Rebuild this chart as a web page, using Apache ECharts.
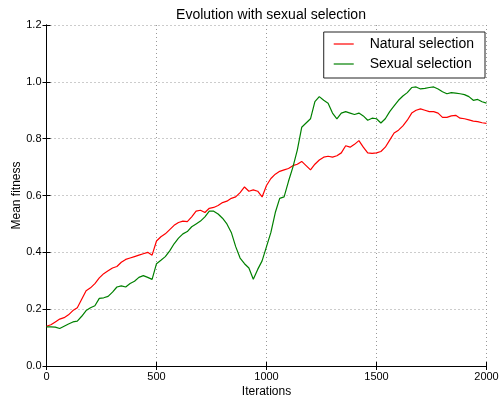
<!DOCTYPE html>
<html><head><meta charset="utf-8">
<script src="https://cdn.jsdelivr.net/npm/echarts@6/dist/echarts.min.js"></script>
<style>html,body{margin:0;padding:0;background:#fff}#c{width:499px;height:401px}</style>
</head><body><div id="c"></div>
<script>
const iterations = [];
for (let i = 0; i <= 2000; i += 20) iterations.push(i);
const naturalSelection = [
0.14,0.145,0.155,0.165,0.17,0.18,0.195,0.205,0.235,0.265,
0.275,0.29,0.31,0.325,0.335,0.345,0.35,0.365,0.375,0.38,
0.385,0.39,0.395,0.40,0.39,0.44,0.455,0.465,0.48,0.495,
0.505,0.51,0.508,0.525,0.545,0.548,0.54,0.555,0.558,0.565,
0.575,0.58,0.59,0.595,0.61,0.63,0.615,0.62,0.615,0.595,
0.635,0.66,0.675,0.685,0.69,0.695,0.705,0.71,0.72,0.705,
0.69,0.71,0.725,0.735,0.738,0.735,0.74,0.75,0.775,0.77,
0.78,0.793,0.77,0.75,0.748,0.75,0.755,0.77,0.795,0.82,
0.83,0.845,0.865,0.89,0.9,0.905,0.9,0.895,0.895,0.89,
0.875,0.875,0.88,0.882,0.872,0.87,0.866,0.862,0.86,0.856,0.854];
const sexualSelection = [
0.138,0.138,0.137,0.132,0.14,0.148,0.155,0.158,0.175,0.195,
0.205,0.212,0.238,0.24,0.245,0.26,0.278,0.282,0.278,0.29,
0.298,0.312,0.318,0.312,0.305,0.36,0.372,0.385,0.405,0.43,
0.45,0.465,0.473,0.49,0.5,0.51,0.525,0.545,0.545,0.535,
0.52,0.5,0.47,0.42,0.38,0.36,0.345,0.305,0.34,0.37,
0.42,0.47,0.54,0.59,0.595,0.65,0.7,0.76,0.84,0.855,
0.87,0.93,0.948,0.935,0.925,0.89,0.87,0.89,0.895,0.89,
0.885,0.89,0.88,0.865,0.872,0.87,0.855,0.87,0.895,0.915,
0.935,0.95,0.962,0.98,0.982,0.975,0.977,0.98,0.982,0.975,
0.965,0.958,0.962,0.96,0.958,0.955,0.948,0.935,0.938,0.93,0.925];
const xTicks = [0, 500, 1000, 1500, 2000];
const yTicks = [0.0, 0.2, 0.4, 0.6, 0.8, 1.0, 1.2];

const FONT = '"Liberation Sans", Arial, sans-serif';
const chart = echarts.init(document.getElementById('c'), null, {renderer: 'canvas'});
const pair = arr => iterations.map((x, i) => [x, arr[i]]);
const axisLineStyle = {show: true, lineStyle: {color: '#000', width: 1}};
const tickIn = {show: true, inside: true, length: 4, lineStyle: {color: '#000'}};
chart.setOption({
  animation: false,
  backgroundColor: '#fff',
  title: {text: 'Evolution with sexual selection', left: 266, top: 3, textAlign: 'center',
    textStyle: {fontFamily: FONT, fontSize: 14, fontWeight: 'normal', color: '#000'}},
  grid: {left: 46.5, right: 12.5, top: 25, bottom: 35, containLabel: false, outerBoundsMode: 'none'},
  legend: {
    orient: 'vertical', right: 14, top: 32,
    backgroundColor: '#fff', borderColor: '#222', borderWidth: 1, borderRadius: 0,
    padding: [4, 11, 6, 10], itemGap: 4,
    icon: 'rect', itemWidth: 20, itemHeight: 1.2,
    textStyle: {fontFamily: FONT, fontSize: 14, color: '#000', lineHeight: 16, padding: [0, 0, 0, 11]},
    data: ['Natural selection', 'Sexual selection']
  },
  xAxis: [{
    type: 'value', min: 0, max: 2000, interval: 500,
    name: 'Iterations', nameLocation: 'middle', nameGap: 20, nameMoveOverlap: false,
    nameTextStyle: {fontFamily: FONT, fontSize: 12, color: '#000'},
    axisLine: axisLineStyle, axisTick: tickIn,
    axisLabel: {fontFamily: FONT, fontSize: 11, color: '#000', margin: 5,
      formatter: v => xTicks.includes(v) ? String(v) : ''},
    splitLine: {show: true, lineStyle: {color: '#999', type: [1, 3], width: 1}}
  }, {
    type: 'value', min: 0, max: 2000, interval: 500, position: 'top',
    axisLine: axisLineStyle, axisTick: tickIn, axisLabel: {show: false}, splitLine: {show: false}
  }],
  yAxis: [{
    type: 'value', min: 0, max: 1.2, interval: 0.2,
    name: 'Mean fitness', nameLocation: 'middle', nameGap: 24, nameMoveOverlap: false,
    nameTextStyle: {fontFamily: FONT, fontSize: 12, color: '#000'},
    axisLine: axisLineStyle, axisTick: tickIn,
    axisLabel: {fontFamily: FONT, fontSize: 11, color: '#000', margin: 5,
      formatter: v => v.toFixed(1)},
    splitLine: {show: true, lineStyle: {color: '#999', type: [1, 3], width: 1}}
  }, {
    type: 'value', min: 0, max: 1.2, interval: 0.2, position: 'right',
    axisLine: axisLineStyle, axisTick: tickIn, axisLabel: {show: false}, splitLine: {show: false}
  }],
  series: [
    {name: 'Natural selection', type: 'line', data: pair(naturalSelection), showSymbol: false,
      symbol: 'none', lineStyle: {color: '#ff0000', width: 1.2}, itemStyle: {color: '#ff0000'}, z: 3},
    {name: 'Sexual selection', type: 'line', data: pair(sexualSelection), showSymbol: false,
      symbol: 'none', lineStyle: {color: '#008000', width: 1.2}, itemStyle: {color: '#008000'}, z: 4}
  ]
});
</script></body></html>
